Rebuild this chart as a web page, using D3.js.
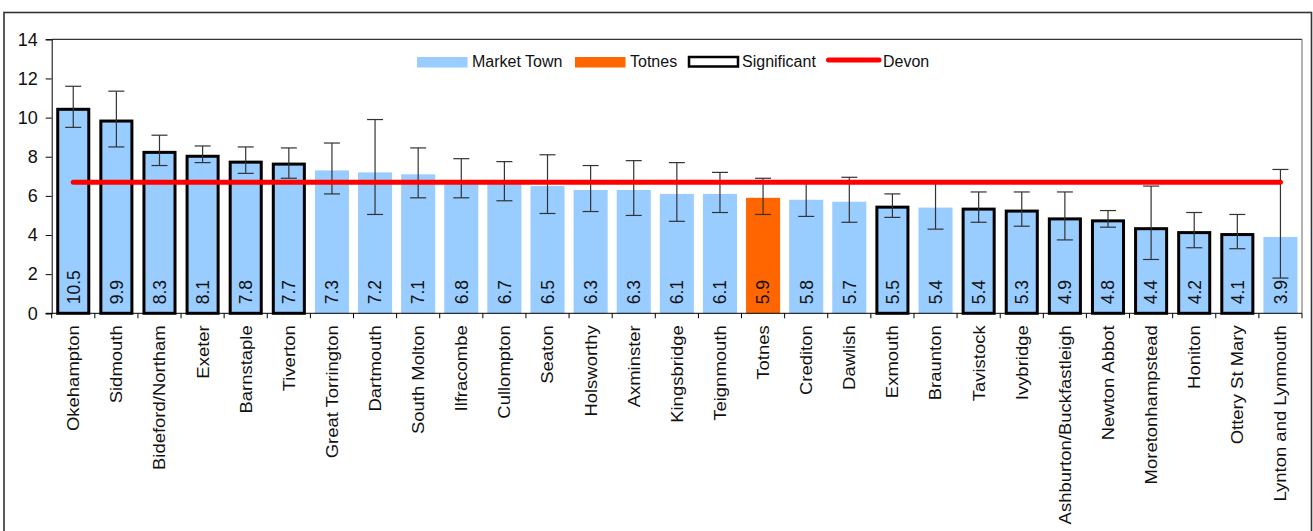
<!DOCTYPE html>
<html>
<head>
<meta charset="utf-8">
<title>Market towns</title>
<script src="https://d3js.org/d3.v7.min.js"></script>
<style>
  body { margin: 0; background: #fff; }
  text { font-family: "Liberation Sans", Arial, sans-serif; fill: #111; }
</style>
</head>
<body>
<svg width="1313" height="531"></svg>
<script>
const towns = ["Okehampton", "Sidmouth", "Bideford/Northam", "Exeter", "Barnstaple", "Tiverton",
  "Great Torrington", "Dartmouth", "South Molton", "Ilfracombe", "Cullompton", "Seaton",
  "Holsworthy", "Axminster", "Kingsbridge", "Teignmouth", "Totnes", "Crediton", "Dawlish",
  "Exmouth", "Braunton", "Tavistock", "Ivybridge", "Ashburton/Buckfastleigh", "Newton Abbot",
  "Moretonhampstead", "Honiton", "Ottery St Mary", "Lynton and Lynmouth"];
const values = [10.5, 9.9, 8.3, 8.1, 7.8, 7.7, 7.3, 7.2, 7.1, 6.8, 6.7, 6.5, 6.3, 6.3, 6.1, 6.1,
  5.9, 5.8, 5.7, 5.5, 5.4, 5.4, 5.3, 4.9, 4.8, 4.4, 4.2, 4.1, 3.9];
const upper = [11.6, 11.35, 9.1, 8.55, 8.5, 8.45, 8.7, 9.9, 8.45, 7.9, 7.75, 8.1, 7.55, 7.8, 7.7,
  7.2, 6.9, 6.65, 6.95, 6.1, 6.65, 6.2, 6.2, 6.2, 5.25, 6.5, 5.15, 5.05, 7.35];
const lower = [9.5, 8.5, 7.55, 7.7, 7.15, 6.9, 6.1, 5.05, 5.9, 5.9, 5.75, 5.1, 5.2, 5.0, 4.7,
  5.15, 5.05, 4.95, 4.65, 4.9, 4.3, 4.65, 4.45, 3.75, 4.4, 2.75, 3.35, 3.3, 1.8];
const significant = [1, 1, 1, 1, 1, 1, 0, 0, 0, 0, 0, 0, 0, 0, 0, 0, 0, 0, 0, 1, 0, 1, 1, 1, 1, 1, 1, 1, 0];
const highlight = "Totnes";
const devon = 6.7;
const yTicks = [0, 2, 4, 6, 8, 10, 12, 14];
const legendItems = ["Market Town", "Totnes", "Significant", "Devon"];

const data = towns.map((t, i) => ({
  town: t, value: values[i], hi: upper[i], lo: lower[i], sig: significant[i] === 1
}));

const svg = d3.select("svg");
const plotLeft = 51.7, plotRight = 1302, plotTop = 39.3, plotBottom = 313.3;

// outer frame
svg.append("rect")
  .attr("x", 4).attr("y", 12.5).attr("width", 1307.5).attr("height", 600)
  .attr("fill", "none").attr("stroke", "#333").attr("stroke-width", 1.6);

const x = d3.scaleBand()
  .domain(towns)
  .range([plotLeft, plotRight])
  .paddingInner(0.21)
  .paddingOuter(0.105);

const y = d3.scaleLinear().domain([0, 14]).range([plotBottom, plotTop]);

const g = svg.append("g");

// plot area border (top black, right grey)
g.append("line").attr("x1", plotLeft).attr("x2", plotRight).attr("y1", plotTop).attr("y2", plotTop)
  .attr("stroke", "#000").attr("stroke-width", 1);
g.append("line").attr("x1", plotRight).attr("x2", plotRight).attr("y1", plotTop).attr("y2", plotBottom)
  .attr("stroke", "#808080").attr("stroke-width", 1.2);

// bars
g.selectAll(".bar")
  .data(data)
  .enter().append("rect")
  .attr("class", "bar")
  .attr("x", d => x(d.town) + (d.sig ? 1.5 : 0))
  .attr("width", d => x.bandwidth() - (d.sig ? 3 : 0))
  .attr("y", d => y(d.value) + (d.sig ? 1.5 : 0))
  .attr("height", d => plotBottom - y(d.value) - (d.sig ? 1.5 : 0))
  .attr("fill", d => d.town === highlight ? "#FF6600" : "#99CCFF")
  .attr("stroke", d => d.sig ? "#000" : "none")
  .attr("stroke-width", 3);

// error bars
const cap = 8;
const err = g.selectAll(".err").data(data).enter().append("g").attr("class", "err")
  .attr("stroke", "#333").attr("stroke-width", 1.2);
err.append("line")
  .attr("x1", d => x(d.town) + x.bandwidth() / 2).attr("x2", d => x(d.town) + x.bandwidth() / 2)
  .attr("y1", d => y(d.hi)).attr("y2", d => y(d.lo));
err.append("line")
  .attr("x1", d => x(d.town) + x.bandwidth() / 2 - cap).attr("x2", d => x(d.town) + x.bandwidth() / 2 + cap)
  .attr("y1", d => y(d.hi)).attr("y2", d => y(d.hi));
err.append("line")
  .attr("x1", d => x(d.town) + x.bandwidth() / 2 - cap).attr("x2", d => x(d.town) + x.bandwidth() / 2 + cap)
  .attr("y1", d => y(d.lo)).attr("y2", d => y(d.lo));

// Devon line
g.append("line")
  .attr("x1", x(towns[0]) + x.bandwidth() / 2)
  .attr("x2", x(towns[towns.length - 1]) + x.bandwidth() / 2)
  .attr("y1", y(devon)).attr("y2", y(devon))
  .attr("stroke", "#FF0000").attr("stroke-width", 5).attr("stroke-linecap", "round");

// value labels
g.selectAll(".val")
  .data(data)
  .enter().append("text")
  .attr("class", "val")
  .attr("transform", d => `translate(${x(d.town) + x.bandwidth() / 2},${plotBottom - 9}) rotate(-90)`)
  .attr("dy", "0.36em")
  .style("font-size", "17.5px")
  .text(d => d.value.toFixed(1));

// y axis
const yAxis = g.append("g")
  .attr("transform", `translate(${plotLeft},0)`)
  .call(d3.axisLeft(y).tickValues(yTicks).tickSize(6).tickPadding(8).tickFormat(d3.format("d")));
yAxis.select(".domain").attr("stroke", "#000");
yAxis.selectAll(".tick line").attr("stroke", "#000");
yAxis.selectAll("text").style("font-size", "18px").attr("fill", "#111");

// x axis with ticks between categories
g.append("line").attr("x1", plotLeft - 6).attr("x2", plotRight).attr("y1", plotBottom).attr("y2", plotBottom)
  .attr("stroke", "#000").attr("stroke-width", 1);
const bounds = towns.map(t => x(t) - x.step() * 0.105).concat([plotRight]);
g.selectAll(".xtick").data(bounds).enter().append("line")
  .attr("x1", d => d).attr("x2", d => d)
  .attr("y1", plotBottom).attr("y2", plotBottom + 5)
  .attr("stroke", "#000");
g.selectAll(".cat")
  .data(towns)
  .enter().append("text")
  .attr("class", "cat")
  .attr("transform", d => `translate(${x(d) + x.bandwidth() / 2},${plotBottom + 12}) rotate(-90) scale(1.12,1)`)
  .attr("text-anchor", "end")
  .attr("dy", "0.36em")
  .style("font-size", "16.5px")
  .text(d => d);

// legend
const legend = svg.append("g");
const lx = [417, 575, 688, 827];
legendItems.forEach((name, i) => {
  const item = legend.append("g").attr("transform", `translate(${lx[i]},62)`);
  if (name === "Devon") {
    item.append("line").attr("x1", 1.5).attr("x2", 52).attr("y1", -2).attr("y2", -2)
      .attr("stroke", "#FF0000").attr("stroke-width", 5).attr("stroke-linecap", "round");
    item.append("text").attr("x", 56).attr("dy", "0.33em").style("font-size", "16px").text(name);
  } else if (name === "Significant") {
    item.append("rect").attr("x", 1).attr("y", -5).attr("width", 49).attr("height", 9.5)
      .attr("fill", "#fff").attr("stroke", "#000").attr("stroke-width", 2.5);
    item.append("text").attr("x", 54).attr("dy", "0.33em").style("font-size", "16px").text(name);
  } else {
    item.append("rect").attr("x", 0).attr("y", -5).attr("width", 50.5).attr("height", 10.5)
      .attr("fill", name === "Totnes" ? "#FF6600" : "#99CCFF");
    item.append("text").attr("x", 55).attr("dy", "0.33em").style("font-size", "16px").text(name);
  }
});
</script>
</body>
</html>
